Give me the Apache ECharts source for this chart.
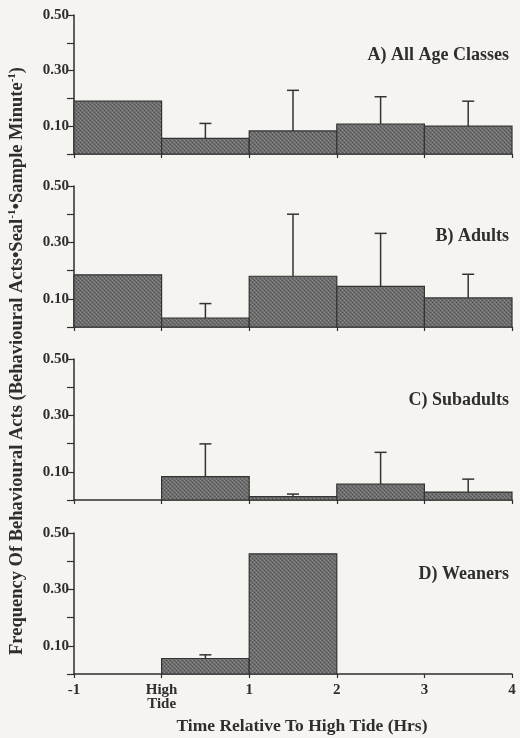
<!DOCTYPE html>
<html><head><meta charset="utf-8">
<script src="https://cdn.jsdelivr.net/npm/echarts@6/dist/echarts.min.js"></script>
<style>html,body{margin:0;padding:0;background:#f6f4f0}#c{width:520px;height:738px}</style>
</head><body><div id="c"></div>
<script>
// Data
const binStart = [-1, 0, 1, 2, 3];
const xTickLabels = ['-1', 'High\nTide', '1', '2', '3', '4'];
const yTickLabels = ['0.10', '0.30', '0.50'];
const panelTitles = ['A) All Age Classes', 'B) Adults', 'C) Subadults', 'D) Weaners'];
const meanA = [0.19, 0.056, 0.083, 0.108, 0.100];
const upperA = [null, 0.110, 0.229, 0.206, 0.190];
const meanB = [0.185, 0.032, 0.180, 0.144, 0.103];
const upperB = [null, 0.083, 0.400, 0.332, 0.187];
const meanC = [0, 0.083, 0.012, 0.056, 0.028];
const upperC = [null, 0.199, 0.021, 0.169, 0.074];
const meanD = [0, 0.055, 0.426, 0, 0];
const upperD = [null, 0.068, null, null, null];

const means = [meanA, meanB, meanC, meanD];
const uppers = [upperA, upperB, upperC, upperD];

// texture pattern (stipple)
const pc = document.createElement('canvas');
pc.width = 4; pc.height = 4;
const pctx = pc.getContext('2d');
pctx.fillStyle = '#6b6b6b'; pctx.fillRect(0,0,4,4);
pctx.fillStyle = '#8e8e8e'; pctx.fillRect(0,0,1,1); pctx.fillRect(2,2,1,1);
pctx.fillStyle = '#545454'; pctx.fillRect(2,0,1,1); pctx.fillRect(0,2,1,1);
pctx.fillStyle = '#7a7a7a'; pctx.fillRect(1,1,1,1); pctx.fillRect(3,3,1,1);
const barFill = {image: pc, repeat: 'repeat'};

const FONT = '"Liberation Serif", "Times New Roman", serif';
const ink = '#2e2e2e';
const grids = [
  {left: 74, right: 8, top: 15, height: 139},
  {left: 74, right: 8, top: 186, height: 141},
  {left: 74, right: 8, top: 359, height: 141},
  {left: 74, right: 8, top: 533, height: 141}
];
const titleY = [56, 237, 401, 575];

const xAxes = [], yAxes = [], series = [], graphics = [];
for (let i = 0; i < 4; i++) {
  xAxes.push({
    type: 'value', gridIndex: i, min: -1, max: 4, interval: 1,
    axisLine: {show: true, onZero: false, lineStyle: {color: ink, width: 1.5}},
    axisTick: {show: true, length: 4, lineStyle: {color: ink, width: 1.2}},
    splitLine: {show: false},
    axisLabel: {
      show: i === 3, margin: 9, color: ink, fontFamily: FONT, fontWeight: 'bold', fontSize: 15, lineHeight: 14,
      formatter: v => xTickLabels[Math.round(v) + 1]
    }
  });
  yAxes.push({
    type: 'value', gridIndex: i, min: 0, max: 0.5, interval: 0.1,
    axisLine: {show: true, onZero: false, lineStyle: {color: ink, width: 1.5}},
    axisTick: {show: true, length: 7, lineStyle: {color: ink, width: 1.2}},
    splitLine: {show: false},
    axisLabel: {
      margin: 5, color: ink, fontFamily: FONT, fontWeight: 'bold', fontSize: 15,
      formatter: v => {
        const s = v.toFixed(2);
        return yTickLabels.indexOf(s) >= 0 ? s : '';
      }
    }
  });
  const barData = binStart.map((s, k) => [s, s + 1, means[i][k]]);
  series.push({
    type: 'custom', xAxisIndex: i, yAxisIndex: i, data: barData, silent: true,
    encode: {x: [0, 1], y: 2},
    renderItem: (params, api) => {
      const v = api.value(2);
      if (!v) return null;
      const p0 = api.coord([api.value(0), 0]);
      const p1 = api.coord([api.value(1), v]);
      return {type: 'rect', shape: {x: p0[0], y: p1[1], width: p1[0] - p0[0], height: p0[1] - p1[1]},
        style: {fill: barFill, stroke: '#333', lineWidth: 1.2}};
    }
  });
  const errData = [];
  binStart.forEach((s, k) => { if (uppers[i][k] != null) errData.push([s + 0.5, means[i][k], uppers[i][k]]); });
  series.push({
    type: 'custom', xAxisIndex: i, yAxisIndex: i, data: errData, silent: true, z: 3,
    encode: {x: 0, y: [1, 2]},
    renderItem: (params, api) => {
      const a = api.coord([api.value(0), api.value(1)]);
      const b = api.coord([api.value(0), api.value(2)]);
      return {type: 'group', children: [
        {type: 'line', shape: {x1: a[0], y1: a[1], x2: b[0], y2: b[1]}, style: {stroke: '#333', lineWidth: 1.5}},
        {type: 'line', shape: {x1: b[0] - 6, y1: b[1], x2: b[0] + 6, y2: b[1]}, style: {stroke: '#333', lineWidth: 1.5}}
      ]};
    }
  });
  graphics.push({
    type: 'text', right: 11, top: titleY[i] - 10,
    style: {text: panelTitles[i], fill: ink, font: 'bold 18px ' + FONT}
  });
}

graphics.push({
  type: 'text', x: 17, y: 361, rotation: Math.PI / 2,
  style: {
    text: '{m|Frequency Of Behavioural Acts (Behavioural Acts\u2022Seal}{s|-1}{m|\u2022Sample Minute}{s|-1}{m|)}',
    align: 'center', verticalAlign: 'middle', fill: ink,
    rich: {
      m: {fontFamily: FONT, fontWeight: 'bold', fontSize: 18.5, fill: ink, lineHeight: 20},
      s: {fontFamily: FONT, fontWeight: 'bold', fontSize: 11, fill: ink, verticalAlign: 'top', lineHeight: 20}
    }
  }
});
graphics.push({
  type: 'text', x: 302, y: 726,
  style: {text: 'Time Relative To High Tide (Hrs)', align: 'center', verticalAlign: 'middle', fill: ink, font: 'bold 17.5px ' + FONT}
});

const chart = echarts.init(document.getElementById('c'), null, {renderer: 'canvas'});
chart.setOption({
  backgroundColor: '#f6f4f0',
  animation: false,
  grid: grids,
  xAxis: xAxes,
  yAxis: yAxes,
  series: series,
  graphic: graphics
});
</script></body></html>
